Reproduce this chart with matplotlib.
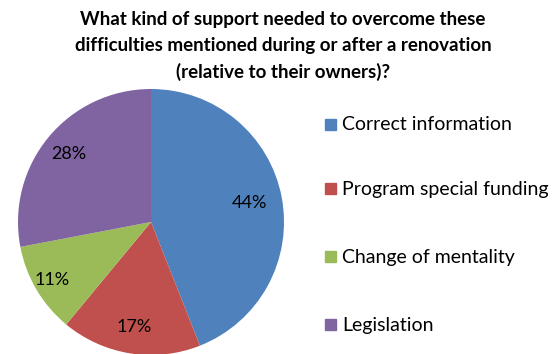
import matplotlib
matplotlib.use("Agg")
import matplotlib.pyplot as plt
import numpy as np

categories = ["Correct information", "Program special funding", "Change of mentality", "Legislation"]
values = [44, 17, 11, 28]
colors = ["#4F81BD", "#C0504D", "#9BBB59", "#8064A2"]
title = "What kind of support needed to overcome these\ndifficulties mentioned during or after a renovation\n(relative to their owners)?"

plt.rcParams['font.family'] = ['Lato', 'DejaVu Sans']

W, H = 552, 354
fig = plt.figure(figsize=(W / 100, H / 100), dpi=100)
cx, cy, r = 151, 222, 133
ax = fig.add_axes([(cx - r) / W, (H - cy - r) / H, 2 * r / W, 2 * r / H])
wedges, _ = ax.pie(values, colors=colors, startangle=90, counterclock=False,
                   radius=1.0, wedgeprops=dict(linewidth=0))
ax.set_xlim(-1, 1)
ax.set_ylim(-1, 1)
ax.set_aspect('auto')
ax.axis('off')

label_dist = [0.75, 0.80, 0.86, 0.80]
for w, v, d in zip(wedges, values, label_dist):
    ang = np.deg2rad((w.theta1 + w.theta2) / 2)
    ax.text(d * np.cos(ang), d * np.sin(ang), f"{v}%", ha='center', va='center',
            fontsize=13, color='black')

fig.text(283 / W, 1 - 11 / H, title, ha='center', va='top', fontsize=13.5,
         fontweight='bold', linespacing=1.62)

leg_y = [125, 189, 257, 325]
for cat, col, y in zip(categories, colors, leg_y):
    fig.patches.append(plt.Rectangle((325 / W, 1 - (y + 5) / H), 11 / W, 11 / H,
                                     transform=fig.transFigure, color=col))
    fig.text(342 / W, 1 - y / H, cat, ha='left', va='center', fontsize=14)

fig.savefig("out.png", dpi=100)
